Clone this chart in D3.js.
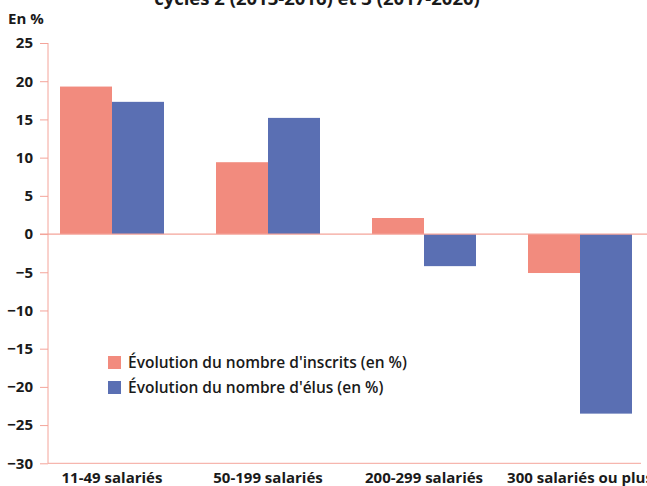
<!DOCTYPE html>
<html><head><meta charset="utf-8">
<script src="https://cdn.jsdelivr.net/npm/d3@7"></script>
<style>body{margin:0;background:#fff}svg{display:block;font-family:"Open Sans",sans-serif}</style>
</head><body><svg id="c" width="647" height="486"></svg>
<script>
const categories = ["11-49 salariés","50-199 salariés","200-299 salariés","300 salariés ou plus"];
const seriesNames = ["Évolution du nombre d'inscrits (en %)","Évolution du nombre d'élus (en %)"];
const inscrits = [19.3, 9.4, 2.1, -5.1];
const elus = [17.3, 15.2, -4.2, -23.5];
const yTicks = [25,20,15,10,5,0,-5,-10,-15,-20,-25,-30];
const colors = ["#F28B7E","#5A6FB3"];
const axisColor = "#F4A49A";

const svg = d3.select("#c");
const x = d3.scaleBand().domain(categories).range([34,658]).paddingInner(1/3).paddingOuter(1/6);
const xs = d3.scaleBand().domain([0,1]).range([0,x.bandwidth()]);
const y = d3.scaleLinear().domain([-30,25]).range([463.3,43]);

// title (partially cut)
svg.append("text").attr("x",317).attr("y",5).attr("text-anchor","middle")
  .attr("font-size",18.5).attr("font-weight",700).attr("fill","#1a1a1a")
  .text("cycles 2 (2013-2016) et 3 (2017-2020)");
svg.append("text").attr("x",8).attr("y",24).attr("font-size",15).attr("font-weight",700).attr("fill","#1a1a1a").text("En %");

// y axis
const yAxis = svg.append("g").attr("transform","translate(48,0)")
  .call(d3.axisLeft(y).tickValues(yTicks).tickSize(8).tickPadding(7).tickFormat(d3.format("d")));
yAxis.select(".domain").attr("stroke",axisColor).attr("d",`M0,${y(25)}V${y(-30)}`);
yAxis.selectAll(".tick line").attr("stroke",axisColor);
yAxis.selectAll(".tick text").attr("font-size",15).attr("font-weight",700).attr("fill","#1a1a1a").attr("font-family","Open Sans");

// bars
const data = [inscrits, elus];
data.forEach((vals,si)=>{
  svg.append("g").selectAll("rect").data(vals).join("rect")
    .attr("x",(d,i)=>x(categories[i])+xs(si))
    .attr("width",xs.bandwidth())
    .attr("y",d=>y(Math.max(0,d)))
    .attr("height",d=>Math.abs(y(d)-y(0)))
    .attr("fill",colors[si]);
});

// zero line and bottom line
svg.append("line").attr("x1",40).attr("x2",647).attr("y1",y(0)).attr("y2",y(0)).attr("stroke",axisColor).attr("stroke-width",1.2);
const xAxis = svg.append("g").attr("transform",`translate(0,${y(-30)})`)
  .call(d3.axisBottom(x).tickSize(0).tickPadding(9));
xAxis.select(".domain").attr("stroke",axisColor).attr("d","M48,0H641");
xAxis.selectAll(".tick text").attr("font-size",15).attr("font-weight",700).attr("fill","#1a1a1a").attr("font-family","Open Sans");

// legend
const lg = svg.append("g");
seriesNames.forEach((n,i)=>{
  lg.append("rect").attr("x",108).attr("y",356+i*25).attr("width",13).attr("height",13).attr("fill",colors[i]);
  lg.append("text").attr("x",128).attr("y",368+i*25).attr("font-size",15.5).attr("font-weight",600).attr("fill","#1a1a1a").text(n);
});
</script></body></html>
